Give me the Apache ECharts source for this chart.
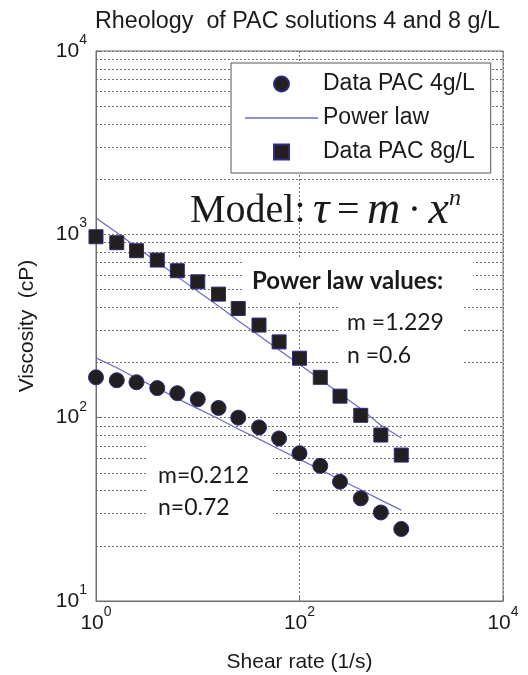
<!DOCTYPE html>
<html>
<head>
<meta charset="utf-8">
<script src="https://cdn.jsdelivr.net/npm/echarts@6/dist/echarts.min.js"></script>
<style>
  html, body { margin: 0; padding: 0; background: #fff; }
  #main { width: 528px; height: 675px; }
</style>
</head>
<body>
<div id="main"></div>
<script>
// shear rate (1/s), same for both solutions
const shearRate = [1, 1.6, 2.5, 4, 6.3, 10, 16, 25, 40, 63, 100, 160, 250, 400, 630, 1000];
// measured viscosity (cP)
const visc4 = [166, 160, 156, 145, 136, 126, 113, 100, 88.5, 77, 64, 54.6, 44.7, 36.3, 30.4, 24.7];
const visc8 = [970, 900, 814, 724, 633, 551, 472, 394, 320, 259, 211, 166, 131, 103, 80.4, 62.5];
// power law curves
const fit4 = [212, 187, 164, 145, 127, 112, 98.6, 86.8, 76.4, 67.3, 59.2, 52.1, 45.9, 40.4, 35.5, 31.3];
const fit8 = [1229, 1022, 850, 707, 588, 489, 407, 338, 281, 234, 195, 162, 135, 112, 91, 77.5];
// minor grid lines of the log y axis
const minorTicks = [20, 30, 40, 50, 60, 70, 80, 90, 200, 300, 400, 500, 600, 700, 800, 900,
  2000, 3000, 4000, 5000, 6000, 7000, 8000, 9000];

const SANS = 'Liberation Sans';
const SERIF = 'Liberation Serif';
const CAL = 'Lato';
const INK = '#1a1a1a';
const GRID = '#707070';
const FIT = '#6b6bc8';
const SQUARE = 'path://M0,0L10,0L10,10L0,10Z';
const DASH = 'path://M0,0L73,0L73,1.3L0,1.3Z';

const pairs = ys => shearRate.map((x, i) => [x, ys[i]]);

const expLabel = v => '{b|10}{s|' + Math.round(Math.log10(v)) + '}';
const expRich = {
  b: { fontFamily: SANS, fontSize: 21, color: INK, lineHeight: 24 },
  s: { fontFamily: SANS, fontSize: 14, color: INK, lineHeight: 14, padding: [0, 0, 22, 0] }
};

const markerStyle = { color: '#231f20', borderColor: '#2b2b80', borderWidth: 1, opacity: 1 };

const chart = echarts.init(document.getElementById('main'));

chart.setOption({
  animation: false,
  backgroundColor: '#fff',
  title: {
    text: 'Rheology  of PAC solutions 4 and 8 g/L',
    left: 95,
    top: 10,
    padding: 0,
    textStyle: { fontFamily: SANS, fontSize: 23.3, fontWeight: 'normal', color: INK }
  },
  grid: {
    left: 96, top: 51, width: 407, height: 550,
    outerBoundsMode: 'none',
    containLabel: false,
    show: true, borderColor: '#6e6e6e', borderWidth: 1
  },
  legend: {
    orient: 'vertical',
    left: 231,
    top: 63,
    data: [
      { name: 'Data PAC 4g/L', icon: 'circle' },
      { name: 'Power law', icon: DASH },
      { name: 'Data PAC 8g/L', icon: SQUARE }
    ],
    itemWidth: 73,
    itemHeight: 15,
    itemGap: 8,
    padding: [8, 16, 8, 14],
    backgroundColor: '#fff',
    borderColor: '#555',
    borderWidth: 1,
    borderRadius: 0,
    textStyle: { fontFamily: SANS, fontSize: 23, color: INK, lineHeight: 26 },
    z: 5
  },
  xAxis: {
    type: 'log',
    logBase: 100,
    min: 1,
    max: 10000,
    axisLine: { lineStyle: { color: '#6e6e6e' } },
    axisTick: { inside: true, length: 5, lineStyle: { color: '#6e6e6e' } },
    splitLine: { show: true, lineStyle: { color: GRID, type: [2, 2] } },
    axisLabel: { margin: 10, formatter: expLabel, rich: expRich },
    name: 'Shear rate (1/s)',
    nameLocation: 'middle',
    nameGap: 51,
    nameTextStyle: { fontFamily: SANS, fontSize: 21, color: INK }
  },
  yAxis: {
    type: 'log',
    logBase: 10,
    min: 10,
    max: 10000,
    axisLine: { show: true, lineStyle: { color: '#6e6e6e' } },
    axisTick: { show: true, inside: true, length: 5, lineStyle: { color: '#6e6e6e' } },
    splitLine: { show: true, lineStyle: { color: GRID, type: [2, 2] } },
    axisLabel: { margin: 9, formatter: expLabel, rich: expRich },
    name: 'Viscosity  (cP)',
    nameLocation: 'middle',
    nameGap: 58,
    nameTextStyle: { fontFamily: SANS, fontSize: 21, color: INK }
  },
  series: [
    {
      name: 'Data PAC 4g/L',
      type: 'scatter',
      data: pairs(visc4),
      symbol: 'circle',
      symbolSize: 15,
      itemStyle: markerStyle,
      z: 3,
      markLine: {
        silent: true,
        symbol: 'none',
        label: { show: false },
        lineStyle: { color: GRID, type: [2, 2], width: 1 },
        data: minorTicks.map(v => ({ yAxis: v })),
        z: 1
      }
    },
    {
      name: 'Power law',
      type: 'line',
      data: pairs(fit4),
      symbol: 'none',
      lineStyle: { color: FIT, width: 1.2 },
      itemStyle: { color: FIT },
      z: 2
    },
    {
      name: 'Power law',
      type: 'line',
      data: pairs(fit8),
      symbol: 'none',
      lineStyle: { color: FIT, width: 1.2 },
      itemStyle: { color: FIT },
      z: 2
    },
    {
      name: 'Data PAC 8g/L',
      type: 'scatter',
      data: pairs(visc8),
      symbol: SQUARE,
      symbolSize: 14,
      itemStyle: markerStyle,
      z: 3
    }
  ],
  graphic: [
    // white boxes behind the annotations (hide the grid like in the original)
    { type: 'rect', silent: true, z: 1.5, shape: { x: 243, y: 257, width: 230, height: 44 }, style: { fill: '#fff' } },
    { type: 'rect', silent: true, z: 1.5, shape: { x: 338, y: 301, width: 124, height: 70 }, style: { fill: '#fff' } },
    { type: 'rect', silent: true, z: 1.5, shape: { x: 146, y: 443, width: 127, height: 88 }, style: { fill: '#fff' } },
    {
      type: 'text', silent: true, z: 6, x: 190, y: 211,
      style: {
        text: '{a|Model:} {i|τ} {a|=} {i|m} {a|·} {i|x}{s|n}',
        fontFamily: SERIF, fontSize: 30, fill: INK,
        verticalAlign: 'middle', textVerticalAlign: 'middle',
        rich: {
          a: { fontFamily: SERIF, fontSize: 40, color: INK },
          i: { fontFamily: SERIF, fontSize: 46, fontStyle: 'italic', color: INK },
          s: { fontFamily: SERIF, fontSize: 24, fontStyle: 'italic', color: INK, padding: [0, 0, 24, 0] }
        }
      }
    },
    {
      type: 'text', silent: true, z: 6, x: 252, y: 281,
      style: {
        text: 'Power law values:', fontFamily: CAL, fontWeight: 'bold', fontSize: 24, fill: INK,
        verticalAlign: 'middle', textVerticalAlign: 'middle'
      }
    },
    {
      type: 'text', silent: true, z: 6, x: 347, y: 323,
      style: { text: 'm =1.229', fontFamily: CAL, fontSize: 23, fill: INK, verticalAlign: 'middle', textVerticalAlign: 'middle' }
    },
    {
      type: 'text', silent: true, z: 6, x: 347, y: 356,
      style: { text: 'n =0.6', fontFamily: CAL, fontSize: 23, fill: INK, verticalAlign: 'middle', textVerticalAlign: 'middle' }
    },
    {
      type: 'text', silent: true, z: 6, x: 158, y: 476,
      style: { text: 'm=0.212', fontFamily: CAL, fontSize: 23, fill: INK, verticalAlign: 'middle', textVerticalAlign: 'middle' }
    },
    {
      type: 'text', silent: true, z: 6, x: 158, y: 508,
      style: { text: 'n=0.72', fontFamily: CAL, fontSize: 23, fill: INK, verticalAlign: 'middle', textVerticalAlign: 'middle' }
    }
  ]
});
</script>
</body>
</html>
